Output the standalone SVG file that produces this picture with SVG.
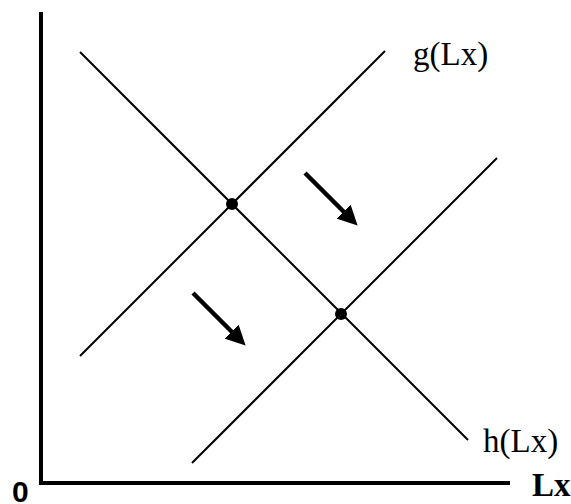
<svg xmlns="http://www.w3.org/2000/svg" width="571" height="504" viewBox="0 0 571 504">
<defs>
<style>
.ln{stroke:#000;stroke-width:2;fill:none}
.ax{stroke:#000;stroke-width:4;fill:none}
.ar{stroke:#000;stroke-width:4.5;fill:none}
.lbl{font-family:"Liberation Serif",serif;font-size:33px;fill:#000}
.bold{font-weight:bold}
</style>
<marker id="ah" viewBox="0 0 10 10" refX="6" refY="5" markerWidth="4.4" markerHeight="4.4" orient="auto" markerUnits="strokeWidth">
<path d="M0,0 L10,5 L0,10 z" fill="#000"/>
</marker>
</defs>
<g id="axes">
<path class="ax" d="M41,12 V483 H510"/>
<text x="12" y="502" font-family="Liberation Sans,sans-serif" font-weight="bold" font-size="30">0</text>
<text class="lbl bold" x="532" y="496" font-size="32">Lx</text>
</g>
<g id="connectors">
<line id="demand" class="ln" x1="80" y1="52" x2="468" y2="440"/>
<line id="g-line" class="ln" x1="80" y1="356" x2="385" y2="51"/>
<line id="h-line" class="ln" x1="192" y1="463" x2="497" y2="158"/>
<line class="ar" x1="305" y1="173" x2="352" y2="220" marker-end="url(#ah)"/>
<line class="ar" x1="193" y1="293" x2="240" y2="340" marker-end="url(#ah)"/>
</g>
<g id="eq1"><circle cx="232" cy="204" r="6" fill="#000"/></g>
<g id="eq2"><circle cx="341" cy="314" r="6" fill="#000"/></g>
<g id="label-g"><text class="lbl" x="413" y="65">g(Lx)</text></g>
<g id="label-h"><text class="lbl" x="483" y="452">h(Lx)</text></g>
</svg>
